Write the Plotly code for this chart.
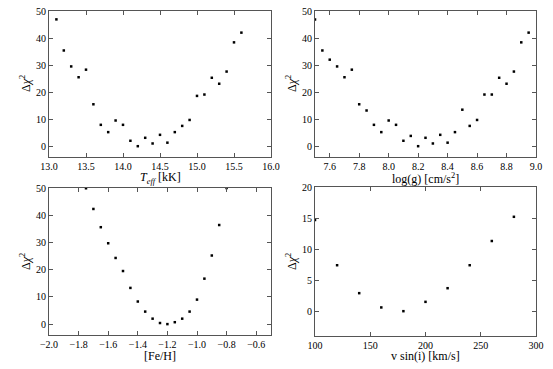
import plotly.graph_objects as go

# Delta chi^2 scans for each fitted parameter
teff = [13.1, 13.2, 13.3, 13.4, 13.5, 13.6, 13.7, 13.8, 13.9, 14.0, 14.1, 14.2, 14.3,
        14.4, 14.5, 14.6, 14.7, 14.8, 14.9, 15.0, 15.1, 15.2, 15.3, 15.4, 15.5, 15.6]
chi2_teff = [46.9, 35.4, 29.5, 25.5, 28.3, 15.5, 7.9, 5.2, 9.5, 7.9, 2.0, 0.0, 3.1,
             1.0, 4.2, 1.3, 5.2, 7.5, 9.7, 18.6, 19.1, 25.3, 23.1, 27.6, 38.4, 42.0]

logg = [7.5, 7.55, 7.6, 7.65, 7.7, 7.75, 7.8, 7.85, 7.9, 7.95, 8.0, 8.05, 8.1, 8.15, 8.2,
        8.25, 8.3, 8.35, 8.4, 8.45, 8.5, 8.55, 8.6, 8.65, 8.7, 8.75, 8.8, 8.85, 8.9, 8.95]
chi2_logg = [46.9, 35.4, 32.0, 29.5, 25.5, 28.3, 15.5, 13.2, 7.9, 5.2, 9.5, 7.9, 2.0, 3.8, 0.0,
             3.1, 1.0, 4.2, 1.3, 5.2, 13.5, 7.5, 9.7, 19.1, 19.1, 25.3, 23.1, 27.6, 38.4, 42.0]

feh = [-1.75, -1.7, -1.65, -1.6, -1.55, -1.5, -1.45, -1.4, -1.35, -1.3,
       -1.25, -1.2, -1.15, -1.1, -1.05, -1.0, -0.95, -0.9, -0.85, -0.8]
chi2_feh = [49.9, 42.3, 35.6, 29.7, 24.3, 19.5, 13.3, 8.3, 4.6, 2.0,
            0.4, 0.0, 0.7, 2.0, 4.6, 9.0, 16.7, 25.2, 36.4, 50.0]

vsini = [100, 120, 140, 160, 180, 200, 220, 240, 260, 280]
chi2_vsini = [14.7, 7.4, 2.9, 0.6, 0.0, 1.5, 3.7, 7.4, 11.3, 15.2]

panels = [
    (teff, chi2_teff),
    (logg, chi2_logg),
    (feh, chi2_feh),
    (vsini, chi2_vsini),
]

fig = go.Figure()

for i, (x, y) in enumerate(panels):
    n = "" if i == 0 else str(i + 1)
    fig.add_trace(go.Scatter(
        x=x, y=y, mode="markers",
        marker=dict(symbol="square", size=2.5, color="black"),
        xaxis="x" + n, yaxis="y" + n,
        showlegend=False,
    ))

W, H = 553, 369
OFF = 8  # page body margin pushes the figure right/down
SERIF = "Liberation Serif"


def px(x):
    return (x - OFF) / W


def py(y):
    return 1 - (y - OFF) / H


def xax(left, right, rng, ticks, fmt, anchor):
    return dict(domain=[px(left), px(right)], range=rng, tickvals=ticks,
                tickformat=fmt, anchor=anchor, automargin=False, ticklabeloverflow="allow",
                tickfont=dict(family=SERIF, size=10),
                showgrid=False, zeroline=False, showline=True, mirror="ticks",
                linecolor="#555", ticks="inside", ticklen=4, tickcolor="#555")


def yax(top, bottom, rng, ticks, anchor):
    return dict(domain=[py(bottom), py(top)], range=rng, tickvals=ticks,
                anchor=anchor, automargin=False, ticklabeloverflow="allow",
                tickfont=dict(family=SERIF, size=10),
                showgrid=False, zeroline=False, showline=True, mirror="ticks",
                linecolor="#555", ticks="inside", ticklen=4, tickcolor="#555")


# axis titles placed as annotations (page pixel positions)
titles = [
    ("<i>T<sub>eff</sub></i> [kK]", 160, 178, 0),
    ("log(g) [cm/s<sup>2</sup>]", 425, 178, 0),
    ("[Fe/H]", 160, 356, 0),
    ("v sin(i) [km/s]", 425, 356, 0),
    ("Δ<i>χ</i><sup>2</sup>", 25, 84, -90),
    ("Δ<i>χ</i><sup>2</sup>", 291, 84, -90),
    ("Δ<i>χ</i><sup>2</sup>", 25, 262, -90),
    ("Δ<i>χ</i><sup>2</sup>", 291, 262, -90),
]

fig.update_layout(
    width=W, height=H,
    margin=dict(l=0, r=0, t=0, b=0),
    paper_bgcolor="white", plot_bgcolor="white",
    font=dict(family=SERIF, size=12, color="black"),
    xaxis=xax(49, 271, [13.0, 16.0], [13.0, 13.5, 14.0, 14.5, 15.0, 15.5, 16.0], ".1f", "y"),
    yaxis=yax(11, 157, [-4, 50], [0, 10, 20, 30, 40, 50], "x"),
    xaxis2=xax(315, 536, [7.5, 9.0], [7.6, 7.8, 8.0, 8.2, 8.4, 8.6, 8.8, 9.0], ".1f", "y2"),
    yaxis2=yax(11, 157, [-4, 50], [0, 10, 20, 30, 40, 50], "x2"),
    xaxis3=xax(49, 271, [-2.0, -0.5], [-2.0, -1.8, -1.6, -1.4, -1.2, -1.0, -0.8, -0.6], ".1f", "y3"),
    yaxis3=yax(188, 335, [-4, 50], [0, 10, 20, 30, 40, 50], "x3"),
    xaxis4=xax(315, 536, [100, 300], [100, 150, 200, 250, 300], "d", "y4"),
    yaxis4=yax(187, 336, [-4, 20], [0, 5, 10, 15, 20], "x4"),
    annotations=[
        dict(text=t, x=px(x), y=py(y), xref="paper", yref="paper", textangle=a,
             xanchor="center", yanchor="middle", showarrow=False,
             font=dict(family=SERIF, size=12))
        for t, x, y, a in titles
    ],
)

fig.write_html("out.html")
